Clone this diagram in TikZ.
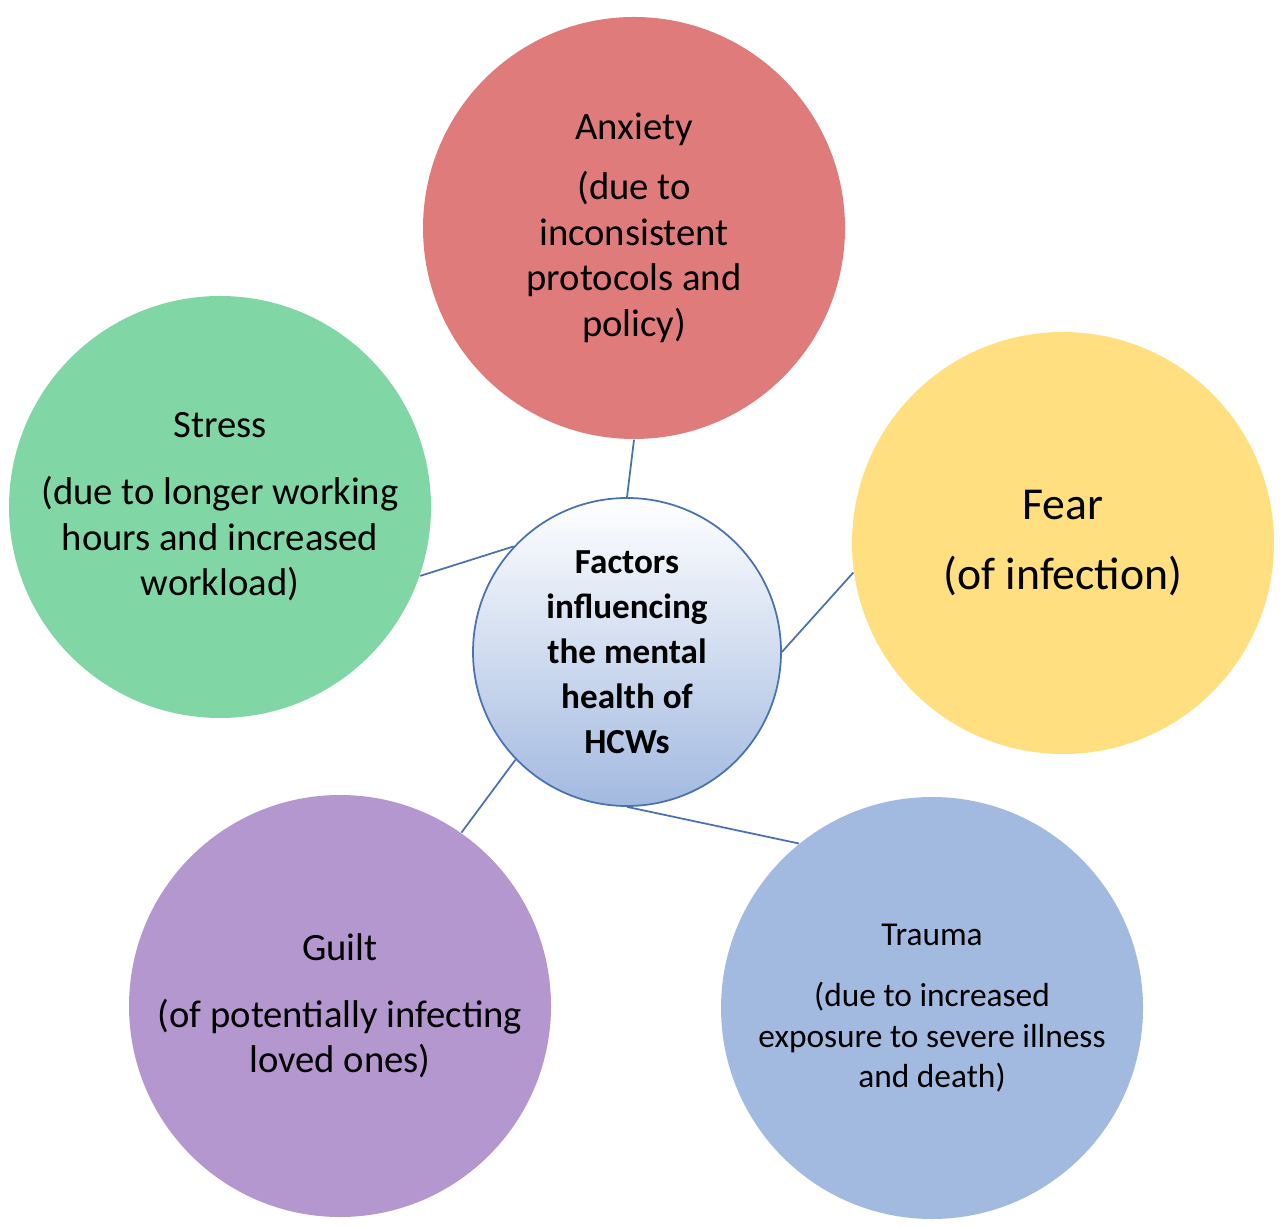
\documentclass[tikz,border=0pt]{standalone}
\usepackage{fontspec}
\setmainfont{Carlito}
\definecolor{anxred}{HTML}{E07B7B}
\definecolor{strgreen}{HTML}{80D7A5}
\definecolor{fearyel}{HTML}{FFDF80}
\definecolor{guiltpur}{HTML}{B497CE}
\definecolor{traublue}{HTML}{A2B9E0}
\definecolor{linkblue}{HTML}{4A72B0}
\tikzset{
  factor/.style={circle,minimum size=4.22cm,inner sep=0pt,align=center,font=\fontsize{11}{13}\selectfont},
  link/.style={linkblue,line width=0.5pt}
}
\begin{document}
\begin{tikzpicture}
\useasboundingbox (0,0) rectangle (12.8,12.27);
\node[circle,minimum size=3.08cm,inner sep=0pt,draw=linkblue,line width=0.5pt,
  top color=white,bottom color=traublue,align=center,
  font=\bfseries\fontsize{10}{12.8}\selectfont] (ctr) at (6.27,5.75)
  {Factors\\influencing\\the mental\\health of\\HCWs};
\node[factor,fill=anxred] (anx) at (6.34,9.99)
  {Anxiety\\[4pt](due to\\inconsistent\\protocols and\\policy)};
\node[factor,fill=strgreen] (str) at (2.20,7.20)
  {Stress\\[6pt](due to longer working\\hours and increased\\workload)};
\node[factor,fill=fearyel,font=\fontsize{13}{16}\selectfont] (fear) at (10.63,6.84)
  {Fear\\[4pt](of infection)};
\node[factor,fill=guiltpur] (guilt) at (3.40,2.21)
  {Guilt\\[6pt](of potentially infecting\\loved ones)};
\node[factor,fill=traublue,font=\fontsize{9.5}{11.5}\selectfont] (trau) at (9.32,2.19)
  {Trauma\\[6pt](due to increased\\exposure to severe illness\\and death)};
% links
\draw[link] (ctr.north) -- (anx.south);
\draw[link] (ctr.137) -- (str.-19);
\draw[link] (ctr.east) -- (fear.188);
\draw[link] (ctr.224) -- (guilt.55);
\draw[link] (ctr.south) -- (trau.129);
\end{tikzpicture}
\end{document}
